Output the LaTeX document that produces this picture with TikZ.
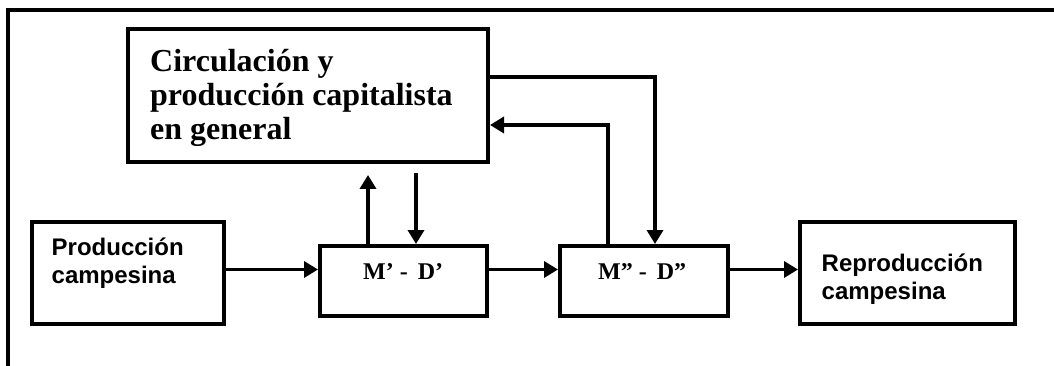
\documentclass[tikz,border=0pt]{standalone}
\usepackage{fontspec}
\setmainfont{Liberation Serif}
\newfontfamily\arialfont{Liberation Sans}
\usetikzlibrary{arrows.meta}
\begin{document}
\begin{tikzpicture}[x=1pt,y=-1pt,
  box/.style={draw, line width=4pt, rectangle, inner sep=0pt},
  arr/.style={line width=3.8pt, -{Triangle[length=14pt,width=16pt]}},
  serifbig/.style={font=\bfseries\fontsize{32}{34}\selectfont, align=left, inner sep=0pt, anchor=base west},
  sanslbl/.style={font=\arialfont\bfseries\fontsize{24}{28}\selectfont, align=left, inner sep=0pt, anchor=base west},
  seriflbl/.style={font=\bfseries\fontsize{24}{28}\selectfont, inner sep=0pt, anchor=base west},
]
\useasboundingbox (0,0) rectangle (1054,366);
\clip (0,0) rectangle (1054,366);
% outer frame (cut off at right and bottom)
\draw[line width=4pt] (8,380) -- (8,10) -- (1070,10);

% boxes
\node[box, minimum width=360pt, minimum height=133pt] (cap) at (308,95.5) {};
\node[box, minimum width=192pt, minimum height=102pt] (prod) at (128,273) {};
\node[box, minimum width=167pt, minimum height=70pt] (m1) at (403.5,281) {};
\node[box, minimum width=168pt, minimum height=70pt] (m2) at (644,281) {};
\node[box, minimum width=215pt, minimum height=102pt] (rep) at (907.5,273) {};

% texts (base anchor = baseline of the last line)
\node[serifbig] (captxt) at (150,139.5) {Circulación y\\producción capitalista\\en general};
\node[sanslbl] (prodtxt) at (51.5,283) {Producción\\campesina};
\node[sanslbl] (reptxt) at (821.5,299) {Reproducción\\campesina};
\node[seriflbl] (m1txt) at (363,279) {M’ -\hspace{10pt}D’};
\node[seriflbl] (m2txt) at (598,279) {M” -\hspace{10pt}D”};

% helper coordinates
\coordinate (h) at (0,269.5);
\coordinate (c1) at (655,77);
\coordinate (c2) at (608,125);
\coordinate (c3) at (368,175);
\coordinate (c4) at (416,173);

% connectors
\draw[arr] (prod.east |- h) -- (m1.west |- h);
\draw[arr] (m1.east |- h) -- (m2.west |- h);
\draw[arr] (m2.east |- h) -- (rep.west |- h);
\draw[arr] (m1.north -| c3) -- (c3);
\draw[arr] (c4) -- (m1.north -| c4);
\draw[arr] (cap.east |- c1) -| (m2.north -| c1);
\draw[arr] (m2.north -| c2) |- (cap.east |- c2);
\end{tikzpicture}
\end{document}
